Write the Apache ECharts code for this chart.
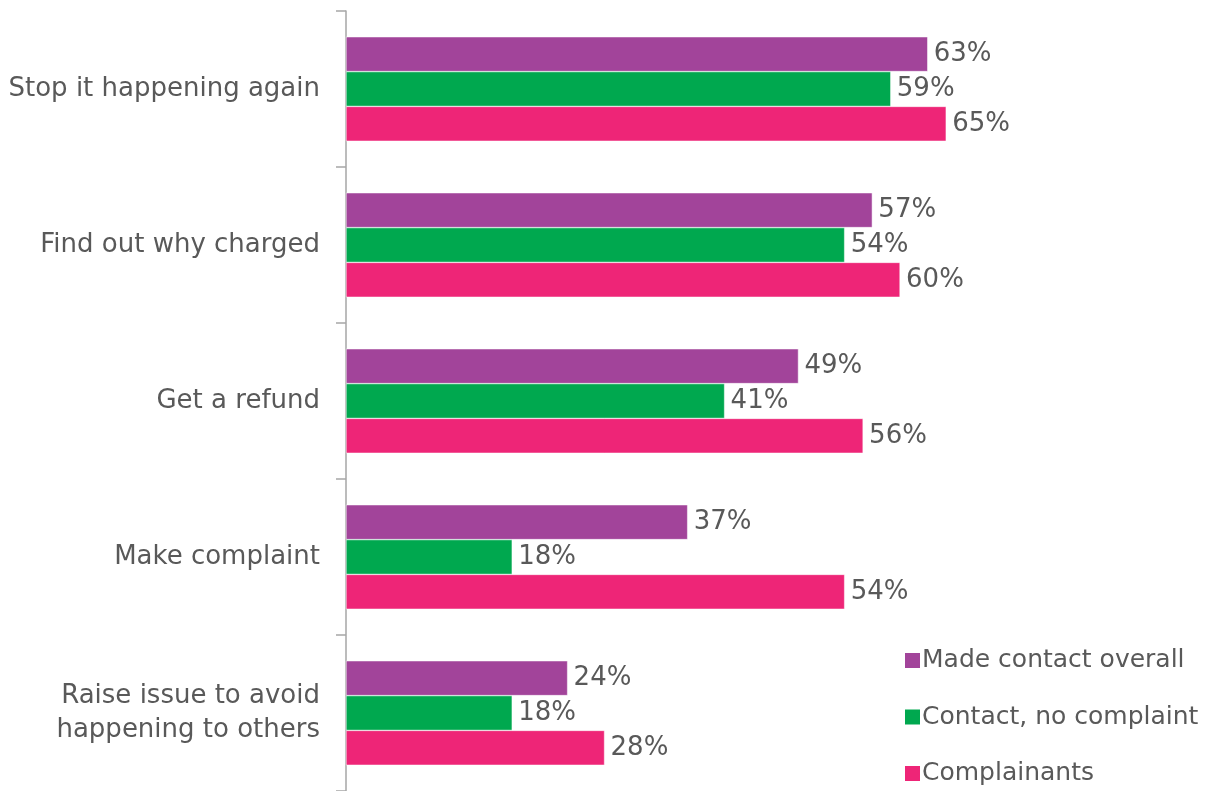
<!DOCTYPE html>
<html>
<head>
<meta charset="utf-8">
<script src="https://cdn.jsdelivr.net/npm/echarts@6/dist/echarts.min.js"></script>
<style>
  html, body { margin: 0; padding: 0; background: #fff; }
  #chart { width: 1224px; height: 791px; }
</style>
</head>
<body>
<div id="chart"></div>
<script>
const categories = [
  "Stop it happening again",
  "Find out why charged",
  "Get a refund",
  "Make complaint",
  "Raise issue to avoid\nhappening to others"
];
const madeContact = [63, 57, 49, 37, 24];
const contactNoComplaint = [59, 54, 41, 18, 18];
const complainants = [65, 60, 56, 54, 28];

const colors = {
  text: "#595959",
  axis: "#a6a6a6",
  purple: "#a2449a",
  green: "#00a84f",
  pink: "#ee2577"
};

const font = "'DejaVu Sans', sans-serif";

const barSeries = (name, data, color) => ({
  name,
  type: "bar",
  data,
  barGap: "0%",
  barCategoryGap: "33%",
  itemStyle: { color, borderColor: "#ffffff", borderWidth: 0.5 },
  label: {
    show: true,
    position: "right",
    distance: 6,
    formatter: "{c}%",
    color: colors.text,
    fontFamily: font,
    fontSize: 26
  }
});

const chart = echarts.init(document.getElementById("chart"), null, { renderer: "canvas" });
chart.setOption({
  animation: false,
  grid: { left: 346, right: 10, top: 11, bottom: 0 },
  legend: {
    orient: "vertical",
    left: 898,
    top: 643,
    height: 160,
    itemGap: 31.5,
    itemWidth: 17,
    itemHeight: 17,
    icon: "rect",
    textStyle: { color: colors.text, fontFamily: font, fontSize: 25, lineHeight: 22, padding: [0, 0, 0, -4] },
    data: ["Made contact overall", "Contact, no complaint", "Complainants"]
  },
  xAxis: { type: "value", min: 0, max: 94, show: false },
  yAxis: {
    type: "category",
    data: categories,
    inverse: true,
    axisLine: { show: true, lineStyle: { color: colors.axis, width: 1.5 } },
    axisTick: { show: true, inside: false, length: 10, lineStyle: { color: colors.axis, width: 1.5 } },
    axisLabel: { color: colors.text, fontFamily: font, fontSize: 26, margin: 26, lineHeight: 34, align: "right" }
  },
  series: [
    barSeries("Made contact overall", madeContact, colors.purple),
    barSeries("Contact, no complaint", contactNoComplaint, colors.green),
    barSeries("Complainants", complainants, colors.pink)
  ]
});
</script>
</body>
</html>
